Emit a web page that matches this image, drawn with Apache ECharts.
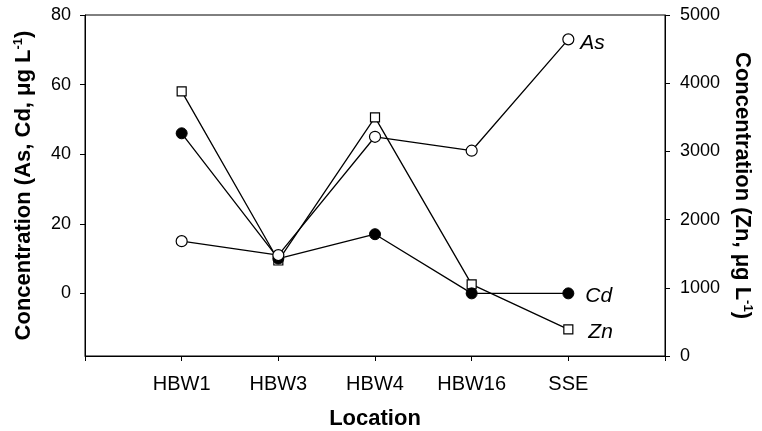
<!DOCTYPE html>
<html>
<head>
<meta charset="utf-8">
<script src="https://cdn.jsdelivr.net/npm/echarts@6/dist/echarts.min.js"></script>
<style>
html,body{margin:0;padding:0;background:#fff;}
#c{width:762px;height:431px;}
</style>
</head>
<body>
<div id="c"></div>
<script>
const categories = ['HBW1', 'HBW3', 'HBW4', 'HBW16', 'SSE'];
const asValues = [15, 11, 45, 41, 73];
const cdValues = [46, 10, 17, 0, 0];
const znValues = [3880, 1400, 3500, 1050, 390];
const leftTicks = [0, 20, 40, 60, 80];
const rightTicks = [0, 1000, 2000, 3000, 4000, 5000];

const FONT = '"Liberation Sans", Arial, sans-serif';
const pts = vals => vals.map((v, i) => [i + 1, v]);

const chart = echarts.init(document.getElementById('c'), null, {renderer: 'canvas'});
const lineStyle = {color: '#000', width: 1.3};
const endLabel = (dist, dy) => ({
  show: true, formatter: '{a}', color: '#000', fontFamily: FONT, fontSize: 21,
  fontStyle: 'italic', distance: dist, offset: [0, dy]
});

chart.setOption({
  animation: false,
  backgroundColor: '#fff',
  grid: {left: 85, right: 97, top: 15, bottom: 75, show: true, borderColor: '#000', borderWidth: 1,
    backgroundColor: 'transparent', outerBoundsMode: 'none', containLabel: false},
  xAxis: {
    type: 'value', min: 0, max: 6, interval: 1,
    name: 'Location', nameLocation: 'middle', nameGap: 52,
    nameTextStyle: {fontFamily: FONT, fontSize: 22, fontWeight: 'bold', color: '#000'},
    axisLine: {show: true, onZero: false, lineStyle: {color: '#000', width: 1}},
    axisTick: {show: true, length: 5, lineStyle: {color: '#000'}},
    axisLabel: {margin: 18, fontFamily: FONT, fontSize: 20, color: '#000',
      formatter: v => categories[v - 1] || ''},
    splitLine: {show: false}
  },
  yAxis: [{
    type: 'value', min: -18, max: 80, position: 'left',
    name: 'Concentration (As, Cd, μg L{sup|-1})', nameLocation: 'middle', nameGap: 50, nameRotate: 90,
    nameTextStyle: {fontFamily: FONT, fontSize: 22, fontWeight: 'bold', color: '#000',
      rich: {sup: {fontFamily: FONT, fontSize: 13, fontWeight: 'bold', color: '#000', verticalAlign: 'top', padding: [0, 0, 10, 0]}}},
    axisLine: {show: true, onZero: false, lineStyle: {color: '#000', width: 1}},
    axisTick: {show: true, length: 5, customValues: leftTicks, lineStyle: {color: '#000'}},
    axisLabel: {margin: 14, fontFamily: FONT, fontSize: 18, color: '#000', customValues: leftTicks},
    splitLine: {show: false}
  }, {
    type: 'value', min: 0, max: 5000, interval: 1000, position: 'right',
    name: 'Concentration (Zn, μg L{sup|-1})', nameLocation: 'middle', nameGap: 66, nameRotate: -90,
    nameTextStyle: {fontFamily: FONT, fontSize: 22, fontWeight: 'bold', color: '#000',
      rich: {sup: {fontFamily: FONT, fontSize: 13, fontWeight: 'bold', color: '#000', verticalAlign: 'top', padding: [0, 0, 10, 0]}}},
    axisLine: {show: true, onZero: false, lineStyle: {color: '#000', width: 1}},
    axisTick: {show: true, length: 5, lineStyle: {color: '#000'}},
    axisLabel: {margin: 15, fontFamily: FONT, fontSize: 18, color: '#000',
      customValues: rightTicks, formatter: v => String(v)},
    splitLine: {show: false}
  }],
  series: [{
    name: 'Zn', type: 'line', yAxisIndex: 1, data: pts(znValues),
    symbol: 'rect', symbolSize: 9, showAllSymbol: true,
    itemStyle: {color: '#fff', borderColor: '#000', borderWidth: 1.2},
    lineStyle: lineStyle, endLabel: endLabel(20, 3), z: 2
  }, {
    name: 'Cd', type: 'line', yAxisIndex: 0, data: pts(cdValues),
    symbol: 'circle', symbolSize: 11,
    itemStyle: {color: '#000', borderColor: '#000', borderWidth: 1},
    lineStyle: lineStyle, endLabel: endLabel(17, 3), z: 3
  }, {
    name: 'As', type: 'line', yAxisIndex: 0, data: pts(asValues),
    symbol: 'circle', symbolSize: 11,
    itemStyle: {color: '#fff', borderColor: '#000', borderWidth: 1.2},
    lineStyle: lineStyle, endLabel: endLabel(12, 4), z: 4
  }]
});
</script>
</body>
</html>
